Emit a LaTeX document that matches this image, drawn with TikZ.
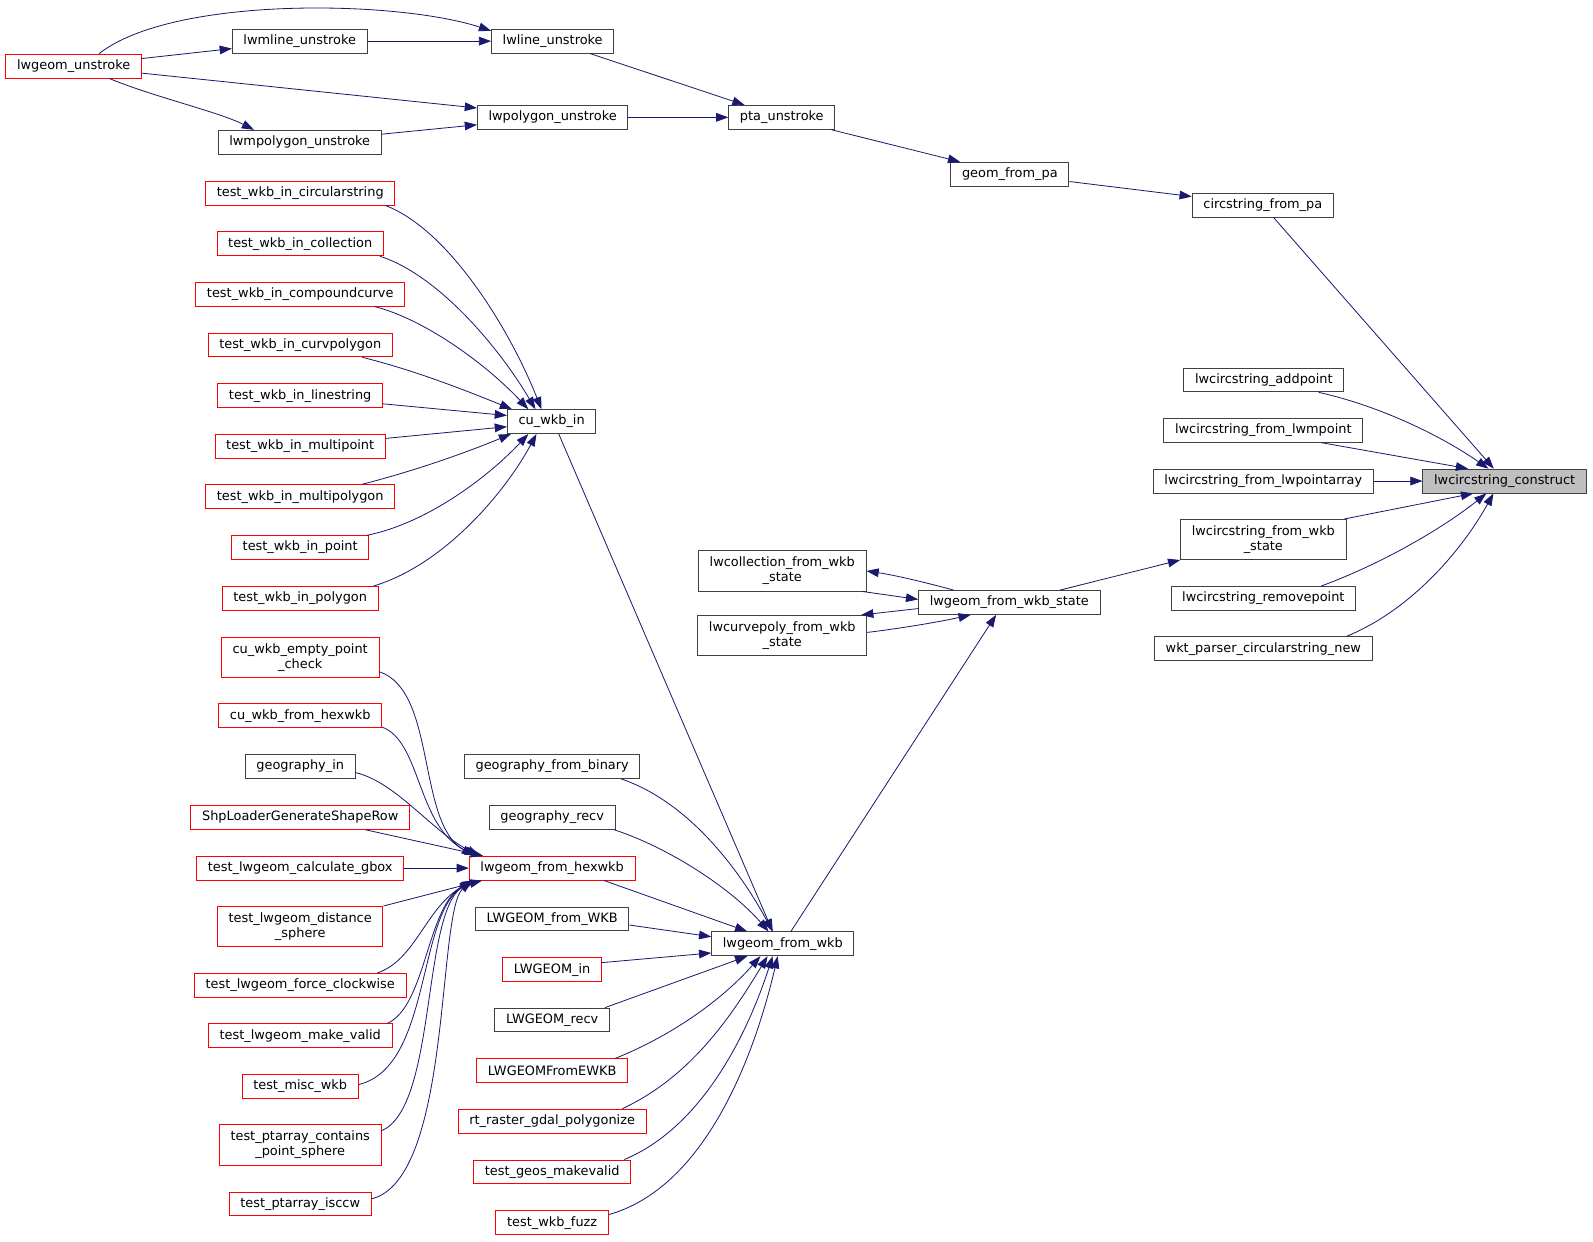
\documentclass[tikz,border=0pt]{standalone}
\usepackage{fontspec}
\setmainfont{DejaVu Sans}
\usetikzlibrary{arrows.meta}
\definecolor{edgeblue}{HTML}{191970}
\definecolor{boxgrey}{HTML}{404040}
\definecolor{fillgrey}{HTML}{BFBFBF}

\begin{document}
\begin{tikzpicture}[
                   x = 1pt,
                   y = -1pt,
   every node/.style = {draw=boxgrey, line width=0.9pt, fill=white,
                        minimum height=23.5pt, inner xsep=11pt, inner ysep=4pt,
                        align=center, font=\fontsize{12.7}{14.5}\selectfont},
     redcaller/.style = {draw=red},
       twoline/.style = {minimum height=39.5pt},
      mainfunc/.style = {fill=fillgrey},
          call/.style = {draw=edgeblue, line width=0.8pt,
                        -{Triangle[length=12pt,width=8.5pt]}},
                    ]
\fill[white] (0,0) rectangle (1568,1222);
\useasboundingbox (0,0) rectangle (1568,1222);

% unstroke chain
\node[redcaller] (unstroke) at (72.5,65)  {lwgeom\_unstroke};
\node (mlineun)  at (295,40.5)   {lwmline\_unstroke};
\node (lineun)   at (544,40.5)   {lwline\_unstroke};
\node (polyun)   at (544,115.5)  {lwpolygon\_unstroke};
\node (mpolyun)  at (295,140)    {lwmpolygon\_unstroke};
\node (ptaun)    at (769.5,115.5) {pta\_unstroke};
\node (geompa)   at (994,171.5)  {geom\_from\_pa};
\node (circpa)   at (1243,202)   {circstring\_from\_pa};

% callers of lwcircstring_construct
\node (addpt)     at (1244,374)    {lwcircstring\_addpoint};
\node (frommpt)   at (1243.5,423.5) {lwcircstring\_from\_lwmpoint};
\node (frompa)    at (1243.5,473.5) {lwcircstring\_from\_lwpointarray};
\node[mainfunc] (construct) at (1481,473.5) {lwcircstring\_construct};
\node[twoline] (fromwkbst) at (1243.5,531) {lwcircstring\_from\_wkb\\\_state};
\node (rempt)     at (1243.5,589)  {lwcircstring\_removepoint};
\node (wktnew)    at (1243.5,638.5) {wkt\_parser\_circularstring\_new};

% wkb state
\node (wkbstate)  at (993.5,593)   {lwgeom\_from\_wkb\_state};
\node[twoline] (collst) at (770,562)   {lwcollection\_from\_wkb\\\_state};
\node[twoline] (curvst) at (770,625.5) {lwcurvepoly\_from\_wkb\\\_state};
\node (fromwkb)   at (770.5,929)   {lwgeom\_from\_wkb};
\node (cuwkbin)   at (543,415)     {cu\_wkb\_in};

% test_wkb_in column
\node[redcaller] (twcirc)  at (295.5,190)   {test\_wkb\_in\_circularstring};
\node[redcaller] (twcoll)  at (295.5,240)   {test\_wkb\_in\_collection};
\node[redcaller] (twcomp)  at (295.5,289.5) {test\_wkb\_in\_compoundcurve};
\node[redcaller] (twcurv)  at (295.5,339.5) {test\_wkb\_in\_curvpolygon};
\node[redcaller] (twline)  at (295.5,389.5) {test\_wkb\_in\_linestring};
\node[redcaller] (twmpt)   at (295.5,439.5) {test\_wkb\_in\_multipoint};
\node[redcaller] (twmpoly) at (295.5,489)   {test\_wkb\_in\_multipolygon};
\node[redcaller] (twpt)    at (295.5,539)   {test\_wkb\_in\_point};
\node[redcaller] (twpoly)  at (295.5,589)   {test\_wkb\_in\_polygon};

% callers of lwgeom_from_hexwkb
\node[redcaller,twoline] (emptychk) at (295.5,647) {cu\_wkb\_empty\_point\\\_check};
\node[redcaller] (cufromhex) at (295.5,704.5) {cu\_wkb\_from\_hexwkb};
\node (geoin)                at (295.5,754.5) {geography\_in};
\node[redcaller] (shploader) at (295.5,804.5) {ShpLoaderGenerateShapeRow};
\node[redcaller] (gbox)      at (295.5,854.5) {test\_lwgeom\_calculate\_gbox};
\node[redcaller,twoline] (distsph) at (295.5,912) {test\_lwgeom\_distance\\\_sphere};
\node[redcaller] (forcecw)   at (295.5,970)   {test\_lwgeom\_force\_clockwise};
\node[redcaller] (makevalid) at (295.5,1019.5) {test\_lwgeom\_make\_valid};
\node[redcaller] (miscwkb)   at (295.5,1069.5) {test\_misc\_wkb};
\node[redcaller,twoline] (containsph) at (295.5,1127) {test\_ptarray\_contains\\\_point\_sphere};
\node[redcaller] (isccw)     at (295.5,1185)  {test\_ptarray\_isccw};

% callers of lwgeom_from_wkb
\node (geobin)                at (543.5,754.5)  {geography\_from\_binary};
\node (georecv)               at (543.5,804.5)  {geography\_recv};
\node[redcaller] (hexwkb)     at (543.5,854.5)  {lwgeom\_from\_hexwkb};
\node (lwfromwkb)             at (543.5,904.5)  {LWGEOM\_from\_WKB};
\node[redcaller] (lwin)       at (543.5,954.5)  {LWGEOM\_in};
\node (lwrecv)                at (543.5,1004)   {LWGEOM\_recv};
\node[redcaller] (ewkb)       at (543.5,1054)   {LWGEOMFromEWKB};
\node[redcaller] (rtraster)   at (543.5,1103.5) {rt\_raster\_gdal\_polygonize};
\node[redcaller] (geosmv)     at (543.5,1153.5) {test\_geos\_makevalid};
\node[redcaller] (wkbfuzz)    at (543.5,1203.5) {test\_wkb\_fuzz};

% edges, top
\draw[call] (unstroke) -- (mlineun);
\draw[call] ([xshift=25pt]unstroke.north) .. controls (170,-4) and (390,0) .. ([yshift=-2pt]lineun.north west);
\draw[call] ([yshift=-7pt]unstroke.east) -- ([yshift=-3pt]polyun.north west);
\draw[call] ([xshift=35pt]unstroke.south) .. controls (150,95) and (215,110) .. ([xshift=-45pt]mpolyun.north);
\draw[call] (mlineun) -- (lineun);
\draw[call] (mpolyun) -- (polyun);
\draw[call] (lineun) -- (ptaun);
\draw[call] (polyun) -- (ptaun);
\draw[call] (ptaun) -- (geompa);
\draw[call] (geompa) -- (circpa);
\draw[call] (circpa) -- (construct);

% edges, right
\draw[call] ([xshift=54pt]addpt.south) .. controls (1360,400) and (1420,430) .. ([xshift=-16pt]construct.north);
\draw[call] ([xshift=57pt]frommpt.south) -- ([xshift=-36pt]construct.north);
\draw[call] (frompa) -- (construct);
\draw[call] ([xshift=-2pt]fromwkbst.north east) -- ([xshift=-31pt]construct.south);
\draw[call] ([xshift=57pt]rempt.north) .. controls (1360,555) and (1420,520) .. ([xshift=-18pt]construct.south);
\draw[call] ([xshift=82pt]wktnew.north) .. controls (1390,600) and (1440,540) .. ([xshift=-11pt]construct.south);

% edges, wkb state
\draw[call] ([xshift=50pt]wkbstate.north) -- (fromwkbst.south west);
\draw[call] ([xshift=-55pt]wkbstate.north) .. controls (910,573) and (880,566) .. (collst.east);
\draw[call] ([xshift=-4pt]collst.south east) -- ([yshift=3pt]wkbstate.west);
\draw[call] ([yshift=-6pt]wkbstate.west) -- ([xshift=-6pt]curvst.north east);
\draw[call] ([yshift=3pt]curvst.east) .. controls (890,618) and (925,612) .. ([xshift=-38pt]wkbstate.south);
\draw[call] ([xshift=8pt]fromwkb.north) -- ([xshift=-13pt]wkbstate.south);
\draw[call] ([xshift=7pt]cuwkbin.south) -- ([xshift=-10pt]fromwkb.north);

% edges, test_wkb_in
\draw[call] ([xshift=-10pt]twcirc.south east) .. controls (440,225) and (500,320) .. ([xshift=-10pt]cuwkbin.north);
\draw[call] ([xshift=-4pt]twcoll.south east) .. controls (430,270) and (490,340) .. ([xshift=-16pt]cuwkbin.north);
\draw[call] ([xshift=-30pt]twcomp.south east) .. controls (420,315) and (480,360) .. ([xshift=-23pt]cuwkbin.north);
\draw[call] ([xshift=-30pt]twcurv.south east) .. controls (410,365) and (460,385) .. ([xshift=5pt]cuwkbin.north west);
\draw[call] ([yshift=-8pt]twline.east) -- ([yshift=6pt]cuwkbin.west);
\draw[call] ([yshift=8pt]twmpt.east) -- ([yshift=-5pt]cuwkbin.west);
\draw[call] ([xshift=-33pt]twmpoly.north east) .. controls (410,463) and (460,445) .. ([xshift=4pt]cuwkbin.south west);
\draw[call] ([xshift=-2pt]twpt.north east) .. controls (420,515) and (480,470) .. ([xshift=-23pt]cuwkbin.south);
\draw[call] ([xshift=-5pt]twpoly.north east) .. controls (440,555) and (500,480) .. ([xshift=-15pt]cuwkbin.south);

% edges, lwgeom_from_hexwkb
\draw[call] ([yshift=6pt]emptychk.south east) .. controls (430,680) and (410,810) .. ([xshift=5pt]hexwkb.north west);
\draw[call] ([yshift=1pt]cufromhex.south east) .. controls (415,730) and (410,815) .. ([xshift=8pt]hexwkb.north west);
\draw[call] ([yshift=-6pt]geoin.east) .. controls (390,770) and (425,818) .. ([xshift=10pt]hexwkb.north west);
\draw[call] ([xshift=-44pt]shploader.south east) -- ([xshift=14pt]hexwkb.north west);
\draw[call] (gbox) -- (hexwkb);
\draw[call] (distsph.north east) -- ([xshift=13pt]hexwkb.south west);
\draw[call] ([xshift=-29pt]forcecw.north east) .. controls (410,945) and (420,890) .. ([xshift=6pt]hexwkb.south west);
\draw[call] ([xshift=-5pt]makevalid.north east) .. controls (420,990) and (420,890) .. ([xshift=5pt]hexwkb.south west);
\draw[call] ([yshift=2pt]miscwkb.east) .. controls (425,1050) and (410,900) .. ([xshift=4pt]hexwkb.south west);
\draw[call] ([yshift=14pt]containsph.east) .. controls (430,1090) and (415,900) .. ([xshift=3pt]hexwkb.south west);
\draw[call] ([yshift=5pt]isccw.east) .. controls (445,1160) and (430,900) .. ([xshift=2pt]hexwkb.south west);

% edges, lwgeom_from_wkb
\draw[call] ([xshift=68pt]geobin.south) .. controls (680,790) and (730,860) .. ([xshift=-10pt]fromwkb.north);
\draw[call] ([xshift=61pt]georecv.south) .. controls (660,835) and (720,875) .. ([xshift=-14pt]fromwkb.north);
\draw[call] ([xshift=51pt]hexwkb.south) -- ([xshift=-35pt]fromwkb.north);
\draw[call] ([yshift=-6pt]lwfromwkb.east) -- ([yshift=7pt]fromwkb.west);
\draw[call] ([yshift=7pt]lwin.east) -- ([yshift=-9pt]fromwkb.west);
\draw[call] ([xshift=52pt]lwrecv.north) -- ([xshift=-35pt]fromwkb.south);
\draw[call] ([xshift=62pt]ewkb.north) .. controls (660,1020) and (710,985) .. ([xshift=-22pt]fromwkb.south);
\draw[call] ([xshift=69pt]rtraster.north) .. controls (680,1060) and (720,1000) .. ([xshift=-15pt]fromwkb.south);
\draw[call] ([xshift=71pt]geosmv.north) .. controls (690,1110) and (735,1020) .. ([xshift=-10pt]fromwkb.south);
\draw[call] ([yshift=8pt]wkbfuzz.east) .. controls (690,1170) and (740,1050) .. ([xshift=-5pt]fromwkb.south);
\end{tikzpicture}
\end{document}
